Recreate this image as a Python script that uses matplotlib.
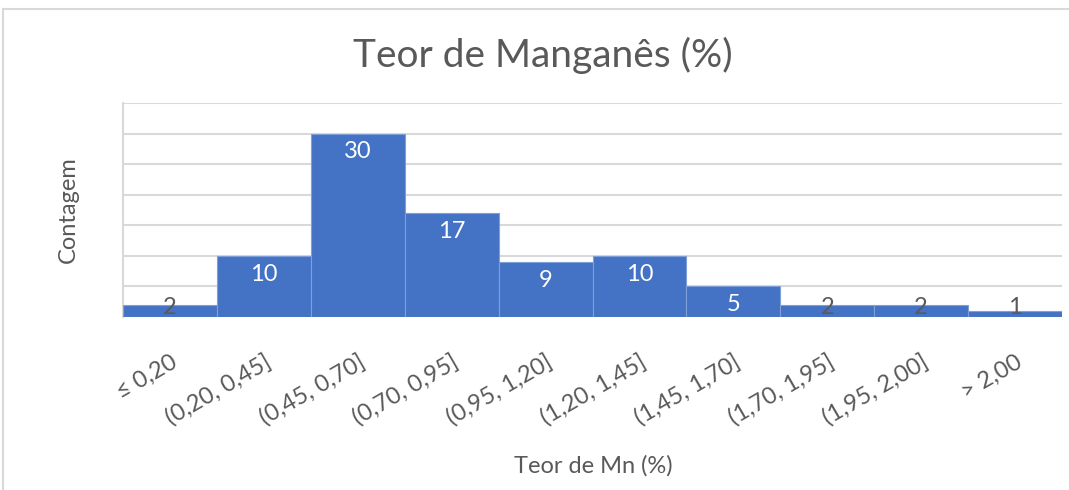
import matplotlib
matplotlib.use('Agg')
from matplotlib import pyplot as plt
from matplotlib.lines import Line2D
import numpy as np

# histogram bins and counts
bins = ['≤ 0,20', '(0,20, 0,45]', '(0,45, 0,70]', '(0,70, 0,95]', '(0,95, 1,20]',
        '(1,20, 1,45]', '(1,45, 1,70]', '(1,70, 1,95]', '(1,95, 2,00]', '> 2,00']
counts = [2, 10, 30, 17, 9, 10, 5, 2, 2, 1]

plt.rcParams['font.family'] = ['Lato', 'DejaVu Sans']

fig = plt.figure(figsize=(10.69, 4.9), dpi=100)
ax = fig.add_axes([123 / 1069, 1 - 317 / 490, (1062 - 123) / 1069, (317 - 103) / 490])

x = np.arange(len(bins))
ax.bar(x, counts, width=1.0, color='#4472C4', edgecolor='#7f9fd8', linewidth=0.8, zorder=3)

# data labels
for xi, v in zip(x, counts):
    if v >= 5:
        ax.text(xi, v - 3, str(v), ha='center', va='center', color='white', fontsize=17, zorder=4)
    else:
        ax.text(xi, 1.6, str(v), ha='center', va='center', color='#595959', fontsize=17, zorder=4)

ax.set_xlim(-0.5, len(bins) - 0.5)
ax.set_ylim(0, 35)
ax.set_yticks(np.arange(0, 36, 5))
ax.yaxis.grid(True, color='#D9D9D9', linewidth=1.5, zorder=0)
ax.tick_params(axis='y', left=False, labelleft=False)
ax.tick_params(axis='x', length=0, pad=25, colors='#595959')
ax.set_xticks(x)
ax.set_xticklabels(bins, rotation=30, ha='right', va='top', rotation_mode='anchor', fontsize=17)

for s in ['top', 'right', 'bottom']:
    ax.spines[s].set_visible(False)
ax.spines['left'].set_color('#D9D9D9')
ax.spines['left'].set_linewidth(1.5)

# titles
fig.text(543 / 1069, 1 - 55 / 490, 'Teor de Manganês (%)', ha='center', va='center', fontsize=28, color='#595959')
fig.text(593 / 1069, 1 - 466 / 490, 'Teor de Mn (%)', ha='center', va='center', fontsize=17, color='#595959')
fig.text(68 / 1069, 1 - 210 / 490, 'Contagem', ha='center', va='center', rotation=90, fontsize=17, color='#595959')

# chart border
fig.add_artist(Line2D([3 / 1069, 1], [1 - 9 / 490, 1 - 9 / 490], color='#D9D9D9', linewidth=1.5))
fig.add_artist(Line2D([3 / 1069, 3 / 1069], [0, 1 - 9 / 490], color='#D9D9D9', linewidth=1.5))

plt.savefig('out.png', dpi=100)
